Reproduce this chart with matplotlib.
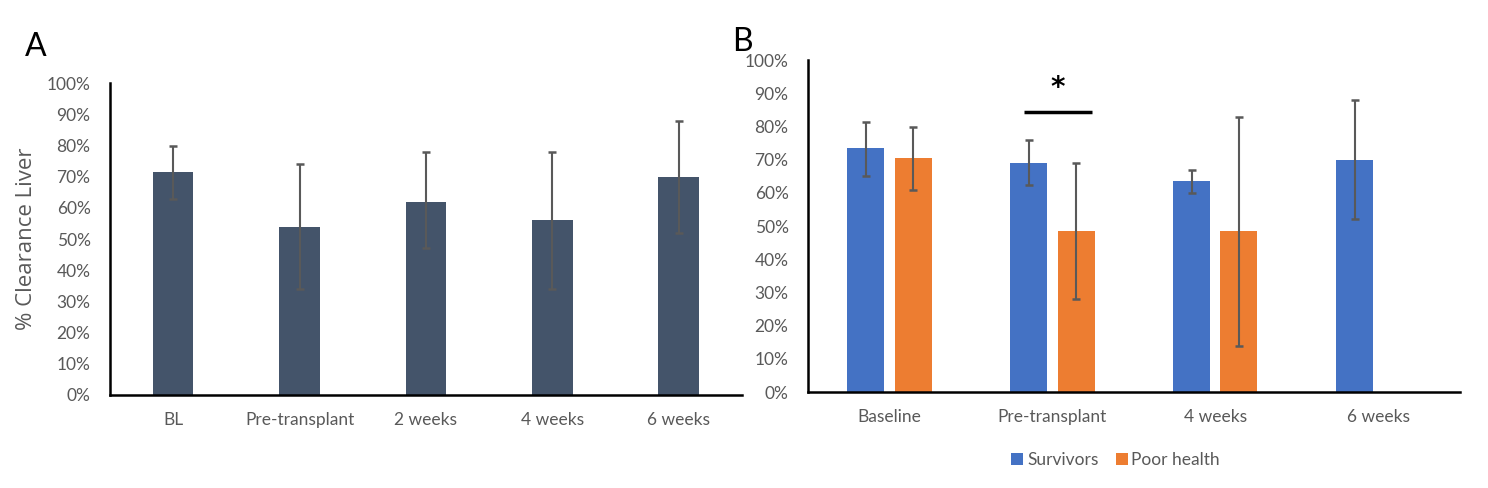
import matplotlib.pyplot as plt
from matplotlib.ticker import PercentFormatter
import numpy as np

plt.rcParams['font.family'] = ['Lato', 'DejaVu Sans']

# Panel A data
cats_a = ["BL", "Pre-transplant", "2 weeks", "4 weeks", "6 weeks"]
vals_a = [71.5, 54, 62, 56, 70]
low_a = [63, 34, 47, 34, 52]
high_a = [80, 74, 78, 78, 88]

# Panel B data
cats_b = ["Baseline", "Pre-transplant", "4 weeks", "6 weeks"]
surv_vals = [73.5, 69, 63.5, 70]
surv_low = [65, 62.5, 60, 52]
surv_high = [81.5, 76, 67, 88]
poor_vals = [70.5, 48.5, 48.5, np.nan]
poor_low = [61, 28, 14, np.nan]
poor_high = [80, 69, 83, np.nan]

DARK = "#44546A"
BLUE = "#4472C4"
ORANGE = "#ED7D31"
ERR = "#595959"
TXT = "#595959"

fig = plt.figure(figsize=(14.88, 4.88), dpi=100)


def style_axis(ax):
    for side in ["top", "right"]:
        ax.spines[side].set_visible(False)
    for side in ["left", "bottom"]:
        ax.spines[side].set_linewidth(1.8)
        ax.spines[side].set_color("black")
    ax.set_ylim(0, 100)
    ax.set_yticks(np.arange(0, 101, 10))
    ax.yaxis.set_major_formatter(PercentFormatter(decimals=0))
    ax.tick_params(axis="both", length=0, labelsize=12.5, colors=TXT)
    ax.tick_params(axis="x", pad=12)
    ax.tick_params(axis="y", pad=14)


def err_bars(ax, x, vals, low, high):
    vals = np.array(vals, dtype=float)
    yerr = [vals - np.array(low, dtype=float), np.array(high, dtype=float) - vals]
    ax.errorbar(x, vals, yerr=yerr, fmt="none", ecolor=ERR,
                elinewidth=1.5, capsize=3, capthick=1.8)


# Panel A
ax_a = fig.add_axes([0.0739, 0.1906, 0.4247, 0.639])
xa = np.arange(len(cats_a))
ax_a.bar(xa, vals_a, width=0.32, color=DARK)
err_bars(ax_a, xa, vals_a, low_a, high_a)
ax_a.set_xlim(-0.5, len(cats_a) - 0.5)
ax_a.set_xticks(xa)
ax_a.set_xticklabels(cats_a)
style_axis(ax_a)
ax_a.set_ylabel("% Clearance Liver", fontsize=16, color=TXT,
                family=["Open Sans", "DejaVu Sans"])
ax_a.yaxis.set_label_coords(-0.115, 0.5)

# Panel B
ax_b = fig.add_axes([0.543, 0.1967, 0.438, 0.680])
xb = np.arange(len(cats_b))
bw = 0.227
off = 0.145
ax_b.bar(xb - off, surv_vals, width=bw, color=BLUE, label="Survivors")
ax_b.bar(xb + off, poor_vals, width=bw, color=ORANGE, label="Poor health")
err_bars(ax_b, xb - off, surv_vals, surv_low, surv_high)
err_bars(ax_b, xb[:3] + off, poor_vals[:3], poor_low[:3], poor_high[:3])
ax_b.set_xlim(-0.5, len(cats_b) - 0.5)
ax_b.set_xticks(xb)
ax_b.set_xticklabels(cats_b)
style_axis(ax_b)

# significance marker
ax_b.plot([0.825, 1.242], [84.5, 84.5], color="black", lw=2.5,
          solid_capstyle="butt")
ax_b.text(1.03, 91.5, "*", ha="center", va="center", fontsize=20,
          fontweight="bold", color="black", family=["DejaVu Sans"])

ax_b.legend(loc="upper center", bbox_to_anchor=(0.472, -0.135), ncol=2,
            frameon=False, fontsize=12.5, handlelength=0.7, handleheight=0.7,
            handletextpad=0.2, columnspacing=1.0, labelcolor=TXT)

fig.text(0.0165, 0.885, "A", fontsize=23)
fig.text(0.492, 0.895, "B", fontsize=23)

fig.savefig("out.png", dpi=100)
